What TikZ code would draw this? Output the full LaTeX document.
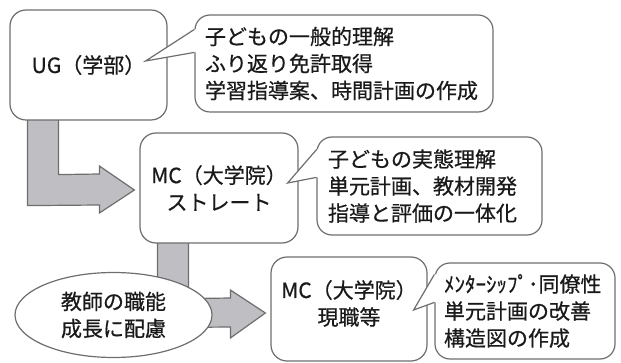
\documentclass[tikz,border=0pt]{standalone}
\usepackage{fontspec}
\setmainfont{Noto Sans CJK JP}[FakeBold=0.6]
\usetikzlibrary{shapes.geometric,calc}
\definecolor{edge}{HTML}{6E6E6E}
\definecolor{barfill}{HTML}{BFBFC3}
\definecolor{ink}{HTML}{1A1A1A}
\pgfdeclarelayer{background}
\pgfsetlayers{background,main}
\begin{document}
\begin{tikzpicture}[x=1pt,y=-1pt,
  txt/.style={font=\fontsize{21}{27}\selectfont, text=ink},
  stagebox/.style={txt, draw=edge, line width=1.2pt, fill=white, rounded corners=16pt, inner sep=0pt, align=center},
  callbox/.style={txt, draw=edge, line width=1.2pt, fill=white, rounded corners=15pt, inner ysep=0pt, align=left},
  blockarrow/.style={draw=edge, fill=barfill, line width=1.2pt, line join=miter},
  pointer/.style={draw=edge, line width=1.2pt, line join=miter}]
\useasboundingbox (0,0) rectangle (621,363);

% stage boxes
\node[stagebox, minimum width=157pt, minimum height=110pt] (ug) at (88.5,65) {UG（学部）};
\node[stagebox, minimum width=158pt, minimum height=110pt] (mc1) at (219,188) {MC（大学院）\\ストレート};
\node[stagebox, minimum width=156pt, minimum height=104pt] (mc2) at (349,309) {MC（大学院）\\現職等\\[-14pt]};

% block arrows (behind)
\coordinate (t1) at ($(mc1.west)+(-5,2)$);
\coordinate (t2) at ($(mc2.west)+(-5,4)$);
\begin{pgfonlayer}{background}
\draw[blockarrow] ($(ug.south west)+(18,-2)$) -- ($(ug.south west)+(18,85)$)
  -- ($(t1)+(-35,15)$) -- ($(t1)+(-35,23)$) -- (t1) -- ($(t1)+(-35,-24)$)
  -- ($(t1)+(-35,-16)$) -- ($(ug.south west)+(49,54)$) -- ($(ug.south west)+(49,-2)$) -- cycle;
\draw[blockarrow] ($(mc1.south west)+(18,-2)$) -- ($(mc1.south west)+(18,84)$)
  -- ($(t2)+(-35,14)$) -- ($(t2)+(-35,25)$) -- (t2) -- ($(t2)+(-35,-23)$)
  -- ($(t2)+(-35,-15)$) -- ($(mc1.south west)+(49,55)$) -- ($(mc1.south west)+(49,-2)$) -- cycle;
\end{pgfonlayer}

% callouts
\node[callbox, minimum height=97pt, text width=278pt, inner xsep=10pt] (c1) at (344,63.5)
  {子どもの一般的理解\\ふり返り免許取得\\学習指導案、時間計画の作成};
\node[callbox, minimum height=98pt, text width=203pt, inner xsep=11pt] (c2) at (429.5,186)
  {子どもの実態理解\\単元計画、教材開発\\指導と評価の一体化};
\node[callbox, minimum height=96pt, text width=162pt, inner xsep=9pt] (c3) at (525,311)
  {ﾒﾝﾀｰｼｯﾌﾟ･同僚性\\単元計画の改善\\構造図の作成};

% pointers
\coordinate (p1) at ($(ug.east)+(-22,-4)$);
\coordinate (a1) at ($(c1.north west)+(0,15)$);
\coordinate (b1) at ($(c1.north west)+(0,38)$);
\fill[white] (p1) -- (a1) -- ++(2.5,0) -- ($(b1)+(2.5,0)$) -- (b1) -- cycle;
\draw[pointer] (a1) -- (p1) -- (b1);

\coordinate (p2) at ($(mc1.east)+(-11,-5)$);
\coordinate (a2) at ($(c2.north west)+(0.3,13)$);
\coordinate (b2) at ($(c2.north west)+(0,41)$);
\fill[white] (p2) -- (a2) -- ++(2.5,0) -- ($(b2)+(2.5,0)$) -- (b2) -- cycle;
\draw[pointer] (a2) -- (p2) -- (b2);

\coordinate (p3) at ($(mc2.east)+(-14,1)$);
\coordinate (a3) at ($(c3.north west)+(0,12)$);
\coordinate (b3) at ($(c3.north west)+(0,40)$);
\fill[white] (p3) -- (a3) -- ++(2.5,0) -- ($(b3)+(2.5,0)$) -- (b3) -- cycle;
\draw[pointer] (a3) -- (p3) -- (b3);

% ellipse
\node[txt, draw=edge, line width=1.2pt, fill=white, ellipse, minimum width=197pt, minimum height=85pt, inner sep=0pt, align=center] (teach) at (113.5,315) {教師の職能\\成長に配慮};
\end{tikzpicture}
\end{document}
